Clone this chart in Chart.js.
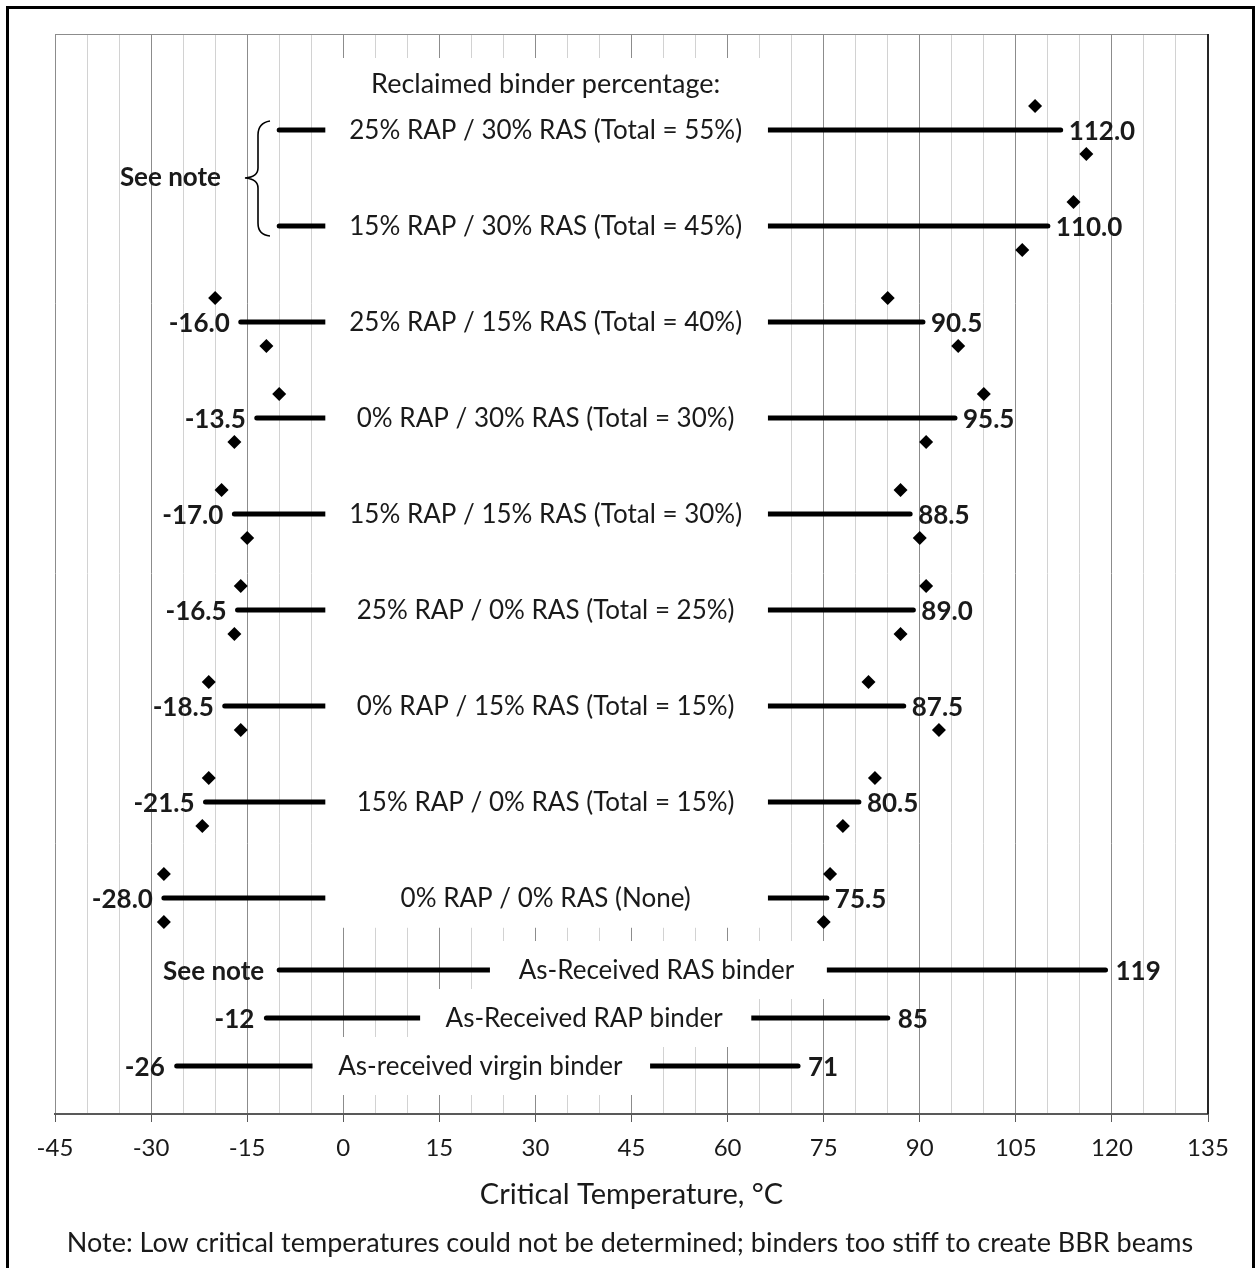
<!DOCTYPE html>
<html>
<head>
<meta charset="utf-8">
<script src="https://cdn.jsdelivr.net/npm/chart.js@4.4.1/dist/chart.umd.min.js"></script>
<style>
  html, body { margin: 0; padding: 0; background: #fff; }
  #wrap { width: 1259px; height: 1268px; }
</style>
</head>
<body>
<div id="wrap"><canvas id="chart" width="1259" height="1268"></canvas></div>
<script>
// Blends, top to bottom (reclaimed binder percentage)
const blendLabels = [
    '25% RAP / 30% RAS (Total = 55%)',
    '15% RAP / 30% RAS (Total = 45%)',
    '25% RAP / 15% RAS (Total = 40%)',
    '0% RAP / 30% RAS (Total = 30%)',
    '15% RAP / 15% RAS (Total = 30%)',
    '25% RAP / 0% RAS (Total = 25%)',
    '0% RAP / 15% RAS (Total = 15%)',
    '15% RAP / 0% RAS (Total = 15%)',
    '0% RAP / 0% RAS (None)',
];
const blendLow = [null, null, -16.0, -13.5, -17.0, -16.5, -18.5, -21.5, -28.0];
const blendHigh = [112.0, 110.0, 90.5, 95.5, 88.5, 89.0, 87.5, 80.5, 75.5];
// individual replicates: upper diamond (A) and lower diamond (B) of each row
const lowRepA = [null, null, -20, -10, -19, -16, -21, -21, -28];
const lowRepB = [null, null, -12, -17, -15, -17, -16, -22, -28];
const highRepA = [108, 114, 85, 100, 87, 91, 82, 83, 76];
const highRepB = [116, 106, 96, 91, 90, 87, 93, 78, 75];

// As-received binders
const binderLabels = ['As-Received RAS binder', 'As-Received RAP binder', 'As-received virgin binder'];
const binderLow = [null, -12, -26];
const binderHigh = [119, 85, 71];

const xTicks = [-45, -30, -15, 0, 15, 30, 45, 60, 75, 90, 105, 120, 135];
const seeNoteStart = -10; // bars without a low critical temperature start here

// layout (chart units)
const blendY = i => 20.5 - 2 * i;
const binderY = i => 3 - i;
const blendTextX = 31.6;
const binderTextX = [48.9, 37.6, 21.4];
const blendBox = { x0: -2.8, x1: 66.3, y0: 22.0, y1: 3.88 };
const binderBox = [[22.9, 75.5], [12.0, 63.7], [-4.8, 47.9]];

const FONT = 'Lato, "Open Sans", sans-serif';
const TEXT = '#1a1a1a';

const datasets = [];
blendLabels.forEach((_, i) => {
    datasets.push({
        data: [{ x: blendLow[i] ?? seeNoteStart, y: blendY(i) }, { x: blendHigh[i], y: blendY(i) }],
        showLine: true, borderColor: '#000', borderWidth: 5, borderCapStyle: 'round', pointRadius: 0,
    });
});
binderLabels.forEach((_, i) => {
    datasets.push({
        data: [{ x: binderLow[i] ?? seeNoteStart, y: binderY(i) }, { x: binderHigh[i], y: binderY(i) }],
        showLine: true, borderColor: '#000', borderWidth: 5, borderCapStyle: 'round', pointRadius: 0,
    });
});
const diamonds = [];
blendLabels.forEach((_, i) => {
    const y = blendY(i);
    if (lowRepA[i] != null) diamonds.push({ x: lowRepA[i], y: y + 0.5 });
    if (lowRepB[i] != null) diamonds.push({ x: lowRepB[i], y: y - 0.5 });
    diamonds.push({ x: highRepA[i], y: y + 0.5 });
    diamonds.push({ x: highRepB[i], y: y - 0.5 });
});
datasets.push({
    data: diamonds, pointStyle: 'rectRot', pointRadius: 7,
    backgroundColor: '#000', borderColor: '#000', borderWidth: 0,
});

const overlay = {
    id: 'overlay',
    beforeDraw(chart) {
        const c = chart.ctx;
        c.save();
        c.fillStyle = '#fff';
        c.fillRect(0, 0, chart.width, chart.height);
        c.restore();
    },
    afterDatasetsDraw(chart) {
        const c = chart.ctx;
        const xs = chart.scales.x, ys = chart.scales.y;
        const px = v => xs.getPixelForValue(v);
        const py = v => ys.getPixelForValue(v);
        c.save();

        // white label boxes over grid and bars
        c.fillStyle = '#fff';
        c.fillRect(px(blendBox.x0), py(blendBox.y0), px(blendBox.x1) - px(blendBox.x0), py(blendBox.y1) - py(blendBox.y0));
        binderBox.forEach((b, i) => {
            const y = py(binderY(i));
            c.fillRect(px(b[0]), y - 29, px(b[1]) - px(b[0]), 58);
        });

        // row labels
        c.fillStyle = TEXT;
        c.textBaseline = 'middle';
        c.textAlign = 'center';
        c.font = '27px ' + FONT;
        c.fillText('Reclaimed binder percentage:', px(blendTextX), py(21.45));
        c.font = '26px ' + FONT;
        blendLabels.forEach((t, i) => c.fillText(t, px(blendTextX), py(blendY(i)) + 1));
        binderLabels.forEach((t, i) => c.fillText(t, px(binderTextX[i]), py(binderY(i)) + 1));

        // value labels
        c.font = 'bold 26px ' + FONT;
        blendLabels.forEach((_, i) => {
            const y = py(blendY(i)) + 2;
            if (blendLow[i] != null) {
                c.textAlign = 'right';
                c.fillText(blendLow[i].toFixed(1), px(blendLow[i]) - 11, y);
            }
            c.textAlign = 'left';
            c.fillText(blendHigh[i].toFixed(1), px(blendHigh[i]) + 8, y);
        });
        binderLabels.forEach((_, i) => {
            const y = py(binderY(i)) + 2;
            c.textAlign = 'right';
            if (binderLow[i] != null) c.fillText(String(binderLow[i]), px(binderLow[i]) - 12, y);
            else c.fillText('See note', px(seeNoteStart) - 15, y);
            c.textAlign = 'left';
            c.fillText(String(binderHigh[i]), px(binderHigh[i]) + 10, y);
        });

        // "See note" with brace for the two stiffest blends
        const yA = py(blendY(0)), yB = py(blendY(1)), ym = (yA + yB) / 2;
        c.textAlign = 'right';
        c.fillText('See note', 221, ym);
        c.strokeStyle = '#000';
        c.lineWidth = 1.6;
        const bx = 258, tip = 245, end = 270;
        c.beginPath();
        c.moveTo(end, yA - 9);
        c.quadraticCurveTo(bx, yA - 7, bx, yA + 5);
        c.lineTo(bx, ym - 10);
        c.quadraticCurveTo(bx, ym - 1, tip, ym);
        c.quadraticCurveTo(bx, ym + 1, bx, ym + 10);
        c.lineTo(bx, yB - 3);
        c.quadraticCurveTo(bx, yB + 9, end, yB + 10);
        c.stroke();
        c.restore();
    },
    afterDraw(chart) {
        const c = chart.ctx;
        const a = chart.chartArea;
        c.save();
        // plot frame: top and right edges
        c.strokeStyle = '#8c8c8c';
        c.lineWidth = 1;
        c.beginPath();
        c.moveTo(a.left, a.top + 0.5);
        c.lineTo(a.right, a.top + 0.5);
        c.stroke();
        c.strokeStyle = '#262626';
        c.lineWidth = 2;
        c.beginPath();
        c.moveTo(a.right, a.top);
        c.lineTo(a.right, a.bottom);
        c.stroke();
        // titles
        c.fillStyle = TEXT;
        c.textAlign = 'center';
        c.textBaseline = 'middle';
        c.font = '29px ' + FONT;
        c.fillText('Critical Temperature, \u00B0C', (a.left + a.right) / 2, 1195);
        c.font = '27px ' + FONT;
        c.fillText('Note: Low critical temperatures could not be determined; binders too stiff to create BBR beams', 630, 1243);
        // outer border
        c.strokeStyle = '#000';
        c.lineWidth = 3;
        c.strokeRect(7.5, 7.5, 1246, 1300);
        c.restore();
    },
};

new Chart(document.getElementById('chart'), {
    type: 'scatter',
    data: { datasets },
    options: {
        responsive: false,
        animation: false,
        events: [],
        layout: { padding: { left: 55, right: 51, top: 34, bottom: 0 } },
        plugins: { legend: { display: false }, tooltip: { enabled: false } },
        scales: {
            x: {
                type: 'linear', min: -45, max: 135,
                afterFit: s => { s.height = 154; },
                ticks: {
                    stepSize: 5, autoSkip: false, maxRotation: 0, padding: 12,
                    color: TEXT, font: { family: FONT, size: 24 },
                    callback: v => xTicks.includes(v) ? String(v) : '',
                },
                grid: {
                    color: ctx => xTicks.includes(ctx.tick.value) ? '#8c8c8c' : '#d2d2d2',
                    tickColor: ctx => xTicks.includes(ctx.tick.value) ? '#595959' : 'rgba(0,0,0,0)',
                    tickLength: 8, lineWidth: 1,
                },
                border: { color: '#595959', width: 2 },
            },
            y: { type: 'linear', min: 0, max: 22.5, display: false },
        },
    },
    plugins: [overlay],
});
</script>
</body>
</html>
